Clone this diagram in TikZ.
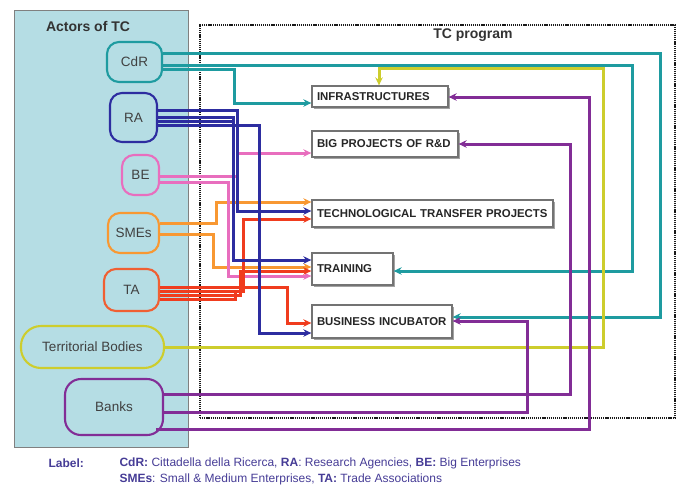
\documentclass[tikz,border=0pt]{standalone}
\usepackage{fontspec}
\setmainfont{Liberation Sans}
\usetikzlibrary{arrows.meta,calc,shadows}
\definecolor{cpanel}{RGB}{181,221,228}
\definecolor{cteal}{RGB}{30,155,160}
\definecolor{cblue}{RGB}{45,45,160}
\definecolor{cpink}{RGB}{232,110,190}
\definecolor{corange}{RGB}{248,152,50}
\definecolor{cred}{RGB}{240,60,30}
\definecolor{cta}{RGB}{240,95,50}
\definecolor{cyellow}{RGB}{205,205,45}
\definecolor{cpurple}{RGB}{130,45,150}
\definecolor{clabel}{RGB}{70,60,150}
\begin{document}
\begin{tikzpicture}[x=1pt,y=-1pt,
  actor/.style={draw, line width=2.1pt, rounded corners=12pt, font=\fontsize{13.5}{15}\selectfont, text=black!75, inner sep=0pt},
  progbox/.style={draw=black!55, line width=1.3pt, fill=white, drop shadow={shadow xshift=2pt,shadow yshift=-2pt,fill=black!45,opacity=0.8}, font=\bfseries\fontsize{11.4}{12}\selectfont, text=black!85, align=left, inner xsep=5pt, inner ysep=0pt},
  conn/.style={line width=3pt},
  arr/.style={-{Stealth[length=8pt,width=7.5pt]}},
  title/.style={font=\bfseries\fontsize{14}{16}\selectfont, text=black!80},
  labtext/.style={anchor=west, font=\fontsize{12}{14}\selectfont, text=clabel}
]
\useasboundingbox (0,0) rectangle (679,491);

% panel of actors
\node[draw=black!50, line width=1pt, fill=cpanel, minimum width=174pt, minimum height=437pt, inner sep=0pt] (panel) at (101,228.5) {};
\node[title] (actorsT) at (88,26) {Actors of TC};

% TC program dotted frame
\node[draw=black!90, line width=1.8pt, dash pattern=on 1.2pt off 0.9pt, minimum width=475pt, minimum height=393pt, inner sep=0pt] (prog) at (437.5,221.5) {};
\node[title] (progT) at (473,35) {TC program};

% actors
\node[actor, draw=cteal, minimum width=55pt, minimum height=40pt] (CdR) at (134.5,62) {CdR};
\node[actor, draw=cblue, minimum width=47pt, minimum height=49pt] (RA) at (133.5,117.5) {RA};
\node[actor, draw=cpink, minimum width=37pt, minimum height=40pt] (BE) at (140.5,175) {BE};
\node[actor, draw=corange, minimum width=51pt, minimum height=40pt] (SMEs) at (133.5,233) {SMEs};
\node[actor, draw=cta, minimum width=55pt, minimum height=42pt] (TA) at (131.5,290) {TA};
\node[actor, draw=cyellow, rounded corners=20pt, minimum width=143pt, minimum height=42pt] (TB) at (92.5,347) {Territorial Bodies};
\node[actor, draw=cpurple, rounded corners=16pt, minimum width=98pt, minimum height=56pt] (Banks) at (114,407) {Banks};

% program boxes
\begin{scope}[every node/.style={progbox}]
\node[text width=126pt, minimum height=21pt] (INFRA) at (380,96.5) {INFRASTRUCTURES};
\node[text width=136pt, minimum height=26pt] (BIG) at (385,144) {BIG PROJECTS OF R\&D};
\node[text width=231pt, minimum height=27pt] (TECH) at (432.5,213.5) {TECHNOLOGICAL TRANSFER PROJECTS};
\node[text width=71pt, minimum height=32pt] (TRAIN) at (352.5,269) {TRAINING};
\node[text width=130pt, minimum height=33pt] (BI) at (382,321.5) {BUSINESS INCUBATOR};
\end{scope}

% CdR connectors
\draw[conn, cteal, arr] (CdR.east |- 0,53) -| (660,317) -- (BI.east |- 0,317);
\draw[conn, cteal, arr] (CdR.east |- 0,65) -| (632,271) -- (TRAIN.east |- 0,271);
\draw[conn, cteal, arr] (CdR.east |- 0,69) -| (234,103) -- (INFRA.west |- 0,103);

% Territorial bodies
\draw[conn, cyellow, arr] (TB.east) -- (603,347) |- (379,68) -- (INFRA.north -| 379,0);

% Banks
\draw[conn, cpurple, arr] (Banks.east |- 0,394) -| (570,144) -- (BIG.east |- 0,144);
\draw[conn, cpurple, arr] (Banks.east |- 0,412) -| (527,321) -- (BI.east |- 0,321);
\draw[conn, cpurple, arr] ($(Banks.east |- 0,429)+(-8,0)$) -| (589,97) -- (INFRA.east |- 0,97);

% SMEs
\draw[conn, corange, arr] (SMEs.east |- 0,223) -| (216,202) -- (TECH.west |- 0,202);
\draw[conn, corange, arr] (SMEs.east |- 0,234) -| (213,267) -- (TRAIN.west |- 0,267);

% BE
\draw[conn, cpink, arr] (BE.east |- 0,176) -| (237,153) -- (BIG.west |- 0,153);
\draw[conn, cpink, arr] (BE.east |- 0,182) -| (228,276) -- (TRAIN.west |- 0,276);

% TA
\draw[conn, cred, arr] (TA.east |- 0,287) -| (287,323) -- (BI.west |- 0,323);
\draw[conn, cred, arr] (TA.east |- 0,291) -| (243,219) -- (TECH.west |- 0,219);
\draw[conn, cred, arr] (TA.east |- 0,295) -| (240,271) -- (TRAIN.west |- 0,271);
\draw[conn, cred] (TA.east |- 0,299) -| (235,290);

% RA
\draw[conn, cblue, arr] (RA.east |- 0,110) -| (237,211) -- (TECH.west |- 0,211);
\draw[conn, cblue, arr] (RA.east |- 0,117) -| (233,260) -- (TRAIN.west |- 0,260);
\draw[conn, cblue] (RA.east |- 0,121) -- (235,121);
\draw[conn, cblue, arr] (RA.east |- 0,125) -| (259,333) -- (BI.west |- 0,333);

% legend
\node[labtext, font=\bfseries\fontsize{12}{14}\selectfont] (lab) at (45,463) {Label:};
\node[labtext] (lab1) at (116,463) {\textbf{CdR:} Cittadella della Ricerca, \textbf{RA}: Research Agencies, \textbf{BE:} Big Enterprises};
\node[labtext] (lab2) at (116,479) {\textbf{SMEs}: Small \& Medium Enterprises, \textbf{TA:} Trade Associations};
\end{tikzpicture}
\end{document}
